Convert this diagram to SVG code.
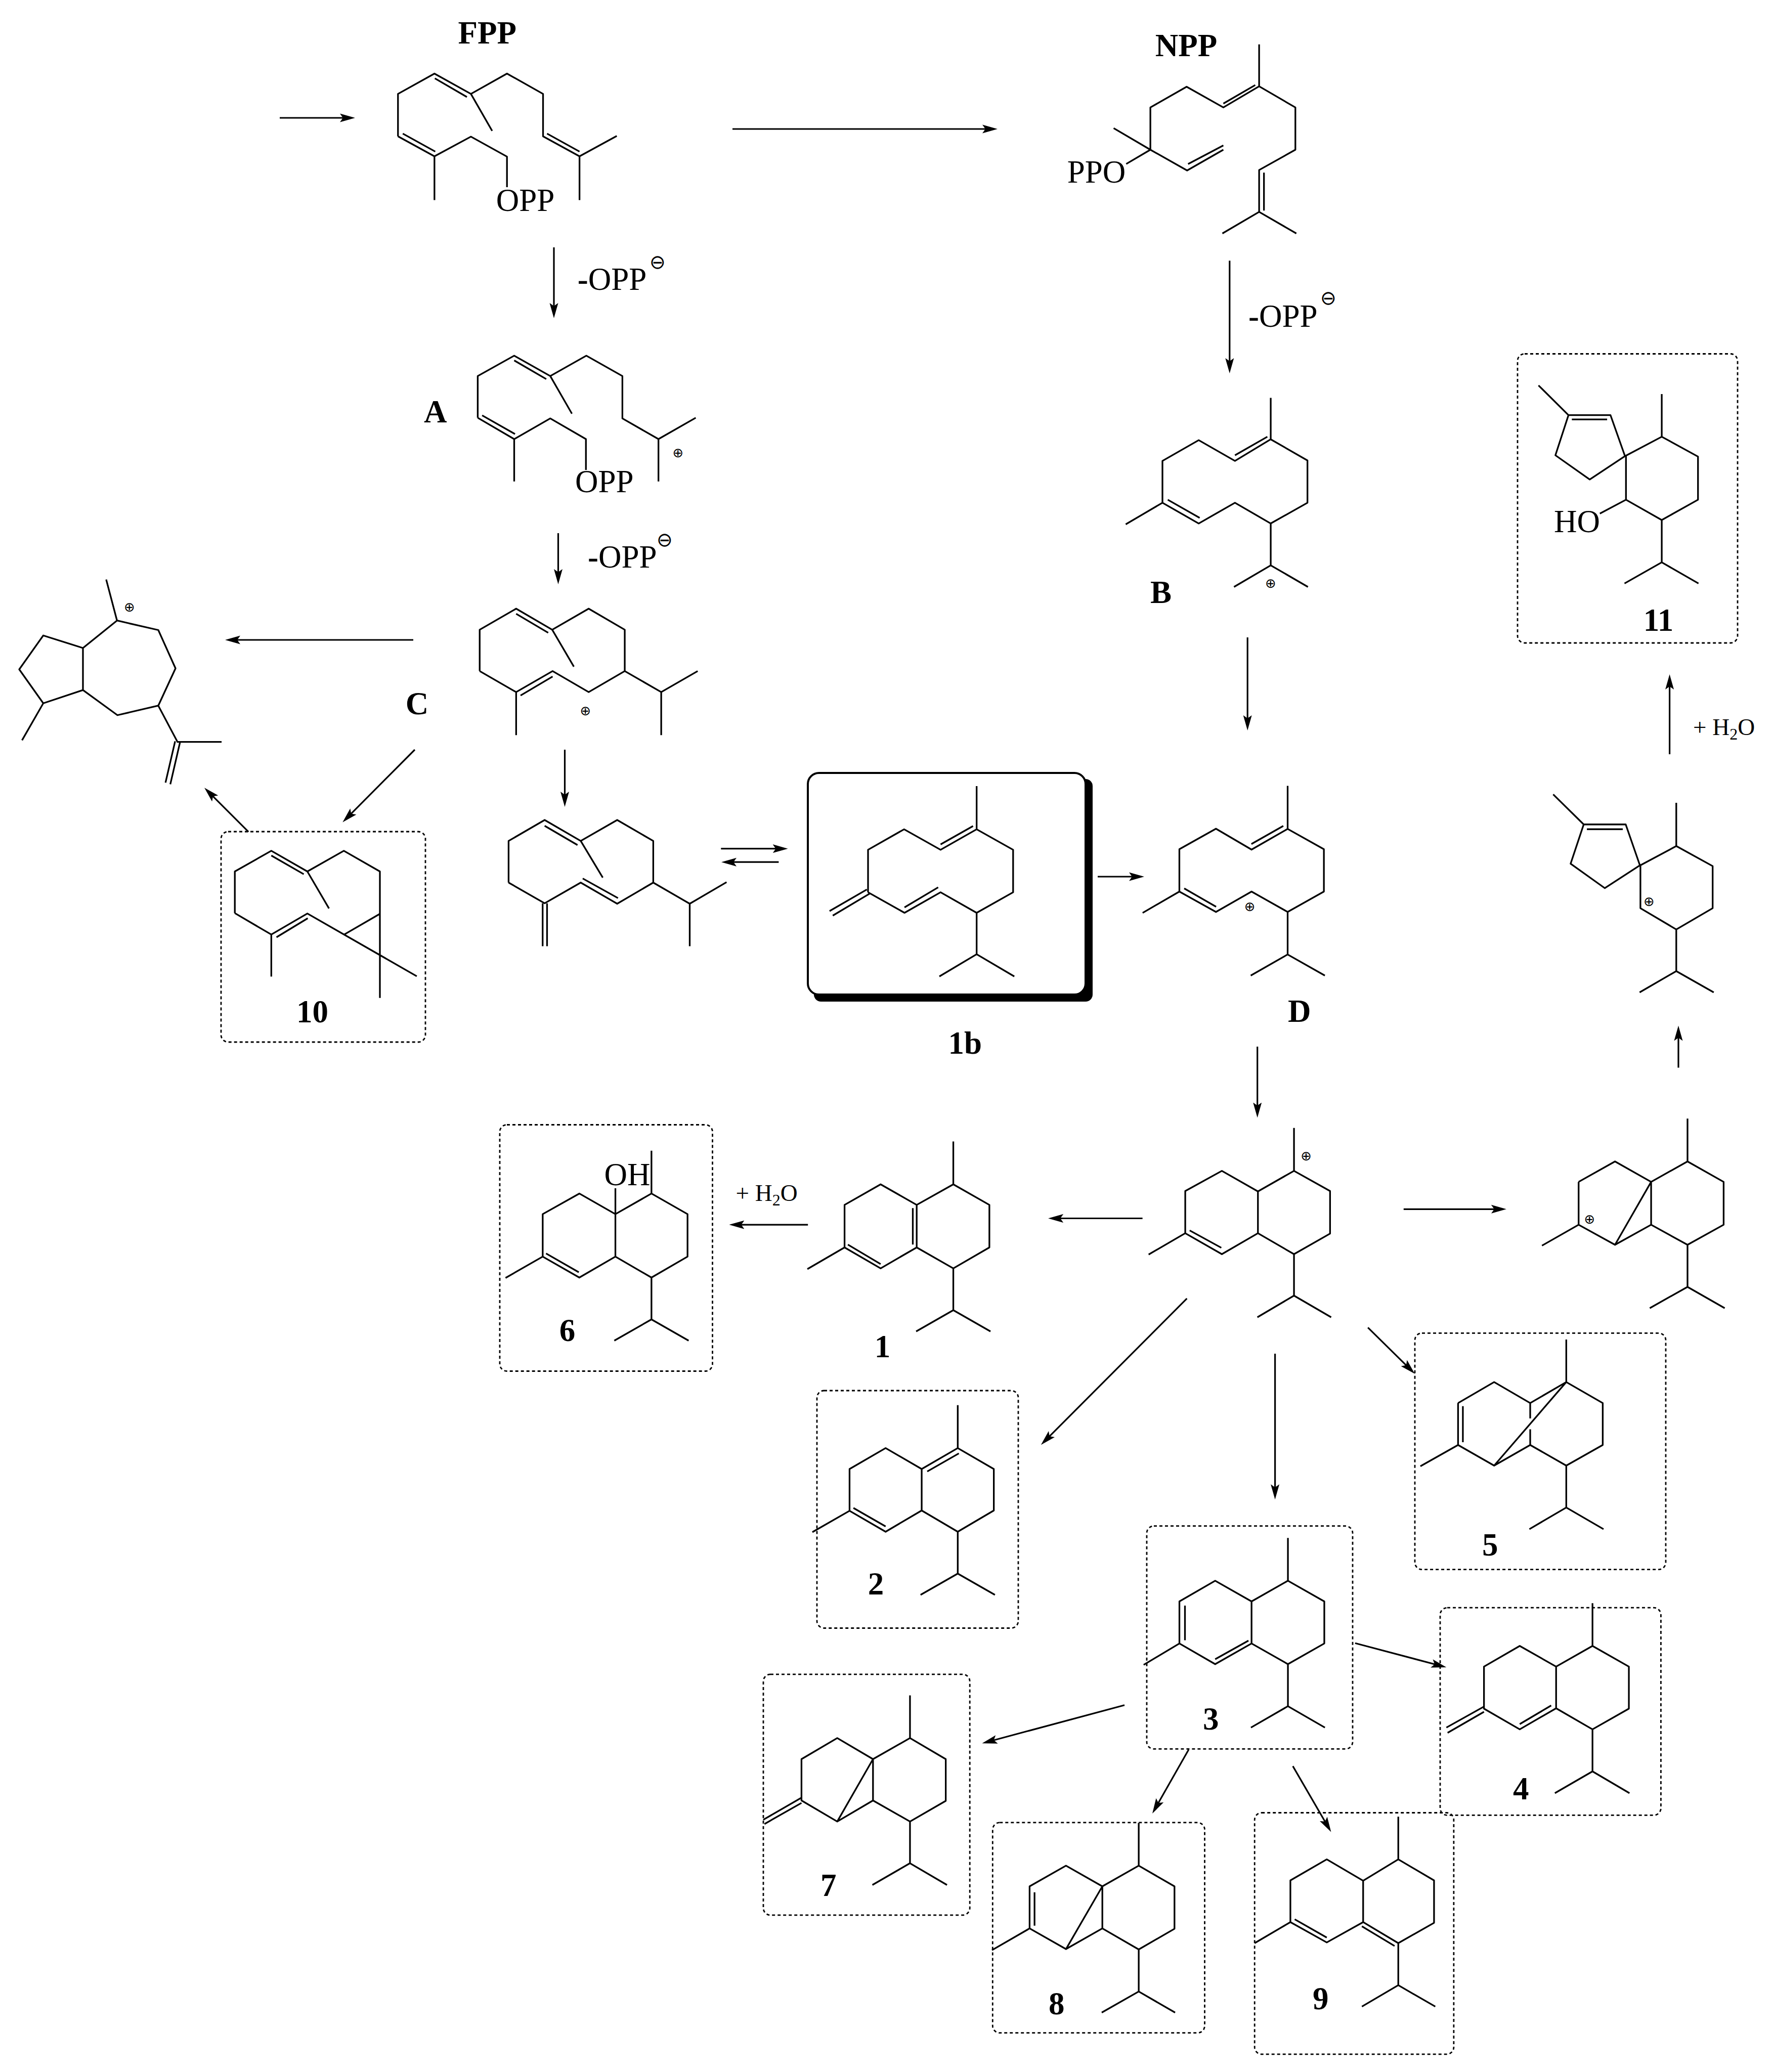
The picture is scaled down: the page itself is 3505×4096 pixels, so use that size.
<svg xmlns="http://www.w3.org/2000/svg" width="3505" height="4096" viewBox="0 0 3505 4096">
<style>
path{fill:none;stroke:#000;stroke-width:3.3;stroke-linejoin:round;vector-effect:non-scaling-stroke}
#connectors line{stroke:#000;stroke-width:3.2;marker-end:url(#ah)}
.d{fill:none;stroke:#000;stroke-width:2.8;stroke-dasharray:6 5}
text{font-family:"Liberation Serif","Times New Roman",serif;font-size:63px;fill:#000}
.b{font-weight:bold}
.w{font-family:"DejaVu Sans",sans-serif;font-size:38px;text-anchor:middle}
.p{font-family:"DejaVu Sans",sans-serif;font-size:26px;text-anchor:middle}
.s{font-size:47px}
.u{font-size:32px}
</style>
<defs>
<marker id="ah" markerUnits="userSpaceOnUse" markerWidth="34" markerHeight="20" refX="22" refY="10" orient="auto"><polygon points="30,10 0,1.5 6,10 0,18.5" fill="#000"/></marker>
</defs>
<rect width="3505" height="4096" fill="#fff"/>
<g id="connectors">
<line x1="553" y1="233" x2="694" y2="233"/>
<line x1="1448" y1="255" x2="1964" y2="255"/>
<line x1="1095" y1="489" x2="1095" y2="621"/>
<line x1="1103.5" y1="1054" x2="1103.5" y2="1147"/>
<line x1="817" y1="1265" x2="453" y2="1265"/>
<line x1="820" y1="1482" x2="682.9" y2="1619.9"/>
<line x1="491.2" y1="1644.3" x2="409.7" y2="1562.9"/>
<line x1="1116.5" y1="1482" x2="1116.5" y2="1587"/>
<line x1="1425.3" y1="1677.7" x2="1549.6" y2="1677.7"/>
<line x1="1539.4" y1="1704.2" x2="1434" y2="1704.2"/>
<line x1="2170" y1="1733" x2="2254" y2="1733"/>
<line x1="2430.8" y1="515.3" x2="2430.8" y2="730"/>
<line x1="2466.2" y1="1260" x2="2466.2" y2="1436"/>
<line x1="3300.6" y1="1491" x2="3300.6" y2="1341"/>
<line x1="3318" y1="2110.6" x2="3318" y2="2035.5"/>
<line x1="2774.8" y1="2390.3" x2="2969.9" y2="2390.3"/>
<line x1="2258.6" y1="2408.5" x2="2080.1" y2="2408.5"/>
<line x1="1597.2" y1="2421.1" x2="1449.4" y2="2421.1"/>
<line x1="2485.7" y1="2069" x2="2485.7" y2="2201.5"/>
<line x1="2346.4" y1="2566.9" x2="2063.5" y2="2850.6"/>
<line x1="2520.6" y1="2676" x2="2520.6" y2="2956.3"/>
<line x1="2704.2" y1="2624.3" x2="2791.2" y2="2710.1"/>
<line x1="2678.9" y1="3248.2" x2="2851.6" y2="3294"/>
<line x1="2223" y1="3370.8" x2="1949.2" y2="3444.2"/>
<line x1="2349.8" y1="3458.8" x2="2282" y2="3578"/>
<line x1="2555.8" y1="3491.4" x2="2627.4" y2="3614.7"/>
</g>
<g id="fpp">
<g transform="matrix(.7922 0 0 .6703 477.8 0)"><path d="M390 402V277L481 217 572 277 662 217 752 277V402L843 461 936 401M843 461V590M572 277L625 386M482 231L562 286M390 402L481 461 572 403 662 462V552M481 461V590M402 394L483 447M762 394L843 447"/></g>
<text x="905.6" y="85.8" class="b">FPP</text>
<text x="980.8" y="417">OPP</text>
</g>
<g id="reagent1"><text x="1141.7" y="573"><tspan class="b">-</tspan>OPP</text><text x="1300" y="531" class="w">⊖</text></g>
<g id="a">
<g transform="matrix(.7922 0 0 .6703 477.8 0)"><path d="M589 1232V1109L680 1049 770 1109 860 1049 950 1109V1234L1040 1295 1133 1232M1040 1295V1420M770 1109L824 1220M680 1063L760 1118M589 1232L680 1295 770 1234 859 1295V1386M680 1295V1420M600 1225L682 1280"/></g>
<text x="838" y="834.5" class="b">A</text>
<text x="1136.9" y="973">OPP</text>
<text x="1340.5" y="904" class="p">⊕</text>
</g>
<g id="reagent2"><text x="1162" y="1121.5"><tspan class="b">-</tspan>OPP</text><text x="1314" y="1080" class="w">⊖</text></g>
<g id="guaiyl">
<g transform="matrix(.7922 0 0 .6703 0 1051.1)"><path d="M292 262L395 290 438 403 395 513 293 541 207 467V343L292 262M207 343L108 306 48 406 108 506 207 467M292 262L265 141M108 506L55 615M395 513L443 620H553M437 618L413 740M449 622L425 745"/></g>
<text x="255.9" y="1208.5" class="p">⊕</text>
</g>
<g id="c">
<g transform="matrix(.7922 0 0 .6703 0 1051.1)"><path d="M1197 411V289L1288 227 1378 289 1469 227 1559 289V411L1469 473 1379 411 1288 473 1197 411M1288 242L1368 298M1299 483L1379 427M1378 289L1432 398M1288 473V600M1559 411L1650 473 1741 411M1650 473V600"/></g>
<text x="801.7" y="1411.7" class="b">C</text>
<text x="1157.4" y="1413.5" class="p">⊕</text>
</g>
<g id="c10">
<rect class="d" x="437" y="1644" width="404" height="416" rx="14"/>
<g transform="matrix(.7922 0 0 .6703 0 1051.1)"><path d="M586 1125V1002L677 941 767 1002 858 941 948 1002V1375M586 1125L677 1188 767 1126 1040 1311M948 1127L859 1188M677 1188V1312M767 1002L821 1111M677 955L758 1010M690 1196L768 1140"/></g>
<text x="586" y="2021" class="b">10</text>
</g>
<g id="germacrene-left">
<g transform="matrix(.7922 0 0 .4266 955.5 1433.3)"><path d="M63 730V537L153 440 243 537 334 440 424 537V730L515 828 607 728M515 828V1025M243 537L298 707M153 467L235 556M424 730L334 828 243 730 153 826 63 730M248 711L336 802M148 826V1025M159 826V1025"/></g>
</g>
<g id="c1b">
<rect x="1609" y="1540" width="551" height="440" rx="14" fill="#000"/>
<rect x="1597" y="1528" width="549" height="438" rx="22" fill="#fff" stroke="#000" stroke-width="4"/>
<g transform="matrix(.7922 0 0 .4266 955.5 1433.3)"><path d="M960 775V578L1050 483 1141 578 1231 483 1322 578V775L1231 870 1141 775 1051 870 960 775M1231 483V283M1141 553L1222 468M1231 870V1062L1138 1165M1231 1062L1325 1165M1051 845L1135 752M957 762L864 862M965 780L872 883"/></g>
<text x="1874.5" y="2082.6" class="b">1b</text>
</g>
<g id="npp">
<g transform="matrix(.9555 0 0 .8531 2006.6 0)"><path d="M505 103V200L580 249V347L505 394V491L429 541M505 491L582 541M505 200L431 249 355 201 280 249V347L204 297M280 347L356 395 431 347M358 380L431 337M280 347L230 380M431 240L497 197M515 400V488"/></g>
<text x="2283.7" y="110.9" class="b">NPP</text>
<text x="2109.8" y="360.9">PPO</text>
</g>
<g id="reagent3"><text x="2468" y="645.8"><tspan class="b">-</tspan>OPP</text><text x="2625.8" y="602" class="w">⊖</text></g>
<g id="b">
<g transform="matrix(.9555 0 0 .8531 2006.6 0)"><path d="M529 922V1018L605 1067V1165L529 1213 455 1165 380 1213 305 1165V1068L380 1020 455 1068 529 1018M305 1165L229 1215M529 1213V1310L453 1360M529 1310L606 1360M455 1055L522 1012M316 1158L382 1200"/></g>
<text x="2274" y="1191.8" class="b">B</text>
<text x="2512" y="1162" class="p">⊕</text>
</g>
<g id="c11">
<rect class="d" x="3000" y="699.5" width="435" height="571.5" rx="14"/>
<g transform="matrix(.9555 0 0 .8531 2006.6 0)"><path d="M1145 962H1232L1262 1057 1189 1111 1118 1055 1145 962M1145 962L1083 893M1152 972H1225M1262 1057L1338 1012 1413 1058V1158L1338 1205 1264 1158V1057M1338 1012V913M1338 1205V1303L1261 1352M1338 1303L1414 1352M1264 1158L1210 1190"/></g>
<text x="3072" y="1051.9">HO</text>
<text x="3248.7" y="1247" class="b">11</text>
</g>
<g id="water-right"><text x="3347" y="1453" class="s">+ H<tspan class="u" dy="9">2</tspan><tspan dy="-9">O</tspan></text></g>
<g id="spiro">
<g transform="matrix(.5289 0 0 .7922 2675.4 1433.3)"><path d="M861 248H1018L1071 350 940 407 812 346 861 248M861 248L747 173M873 260H1007M1073 350L1207 302 1343 352V457L1207 510 1073 457V350M1207 302V194M1207 510V614L1070 667M1207 614L1347 667"/></g>
<text x="3259.8" y="1790.5" class="p">⊕</text>
</g>
<g id="bridged-cation">
<g transform="matrix(.5289 0 0 .7922 2675.4 1433.3)"><path d="M842 1140L978 1089 1113 1140V1247L978 1297 842 1247V1140M842 1247L705 1299M1113 1140L1249 1089 1384 1140V1247L1249 1297 1113 1247M1113 1140L978 1297M1249 1089V982M1249 1297V1402L1108 1455M1249 1402L1388 1455"/></g>
<text x="3142.4" y="2418.5" class="p">⊕</text>
</g>
<g id="germacrene-d">
<g transform="matrix(.3185 0 0 .3656 2197.7 1481)"><path d="M420 770V541L647 430 868 543 1092 431 1317 541V770L1092 880 868 770 647 880 420 770M420 770L192 885M1092 431V198M867 513L1065 415M450 753L648 852M1092 880V1110L863 1224M1092 1110L1323 1224"/></g>
<text x="2470.6" y="1800.5" class="p">⊕</text>
<text x="2546" y="2020" class="b">D</text>
</g>
<g id="c6">
<rect class="d" x="988" y="2223.5" width="420.5" height="487" rx="14"/>
<g transform="matrix(1.0969 0 0 .7008 955.5 2149.9)"><path d="M238 357L173 299 107 357V477L173 536 238 477V357L303 299 368 357V477L303 536 238 477M303 299V178M238 357V284M107 477L40 537M113 468L172 521M303 536V654L236 714M303 654L370 714"/></g>
<text x="1194.6" y="2342.6">OH</text>
<text x="1105.8" y="2651" class="b">6</text>
</g>
<g id="water-left"><text x="1454.6" y="2374" class="s">+ H<tspan class="u" dy="9">2</tspan><tspan dy="-9">O</tspan></text></g>
<g id="c1">
<g transform="matrix(1.0969 0 0 .7008 955.5 2149.9)"><path d="M781 331L716 273 651 331V451L716 510 781 451V331L847 273 912 331V451L847 510 781 451M847 273V152M651 451L584 512M657 443L716 498M774 340V443M847 510V628L780 688M847 628L914 688"/></g>
<text x="1728.8" y="2682.5" class="b">1</text>
</g>
<g id="cadinyl-cation">
<g transform="matrix(1.0969 0 0 .7008 955.5 2149.9)"><path d="M1396 293L1331 235 1265 292V411L1331 470 1396 411V293L1461 235 1526 292V412L1461 470 1396 411M1461 235V114M1265 411L1199 471M1273 403L1330 452M1461 470V587L1395 648M1461 587L1528 648"/></g>
<text x="2582.2" y="2294" class="p">⊕</text>
</g>
<g id="c2">
<rect class="d" x="1615" y="2749" width="398" height="469.5" rx="14"/>
<g transform="matrix(1.0969 0 0 .7008 955.5 2149.9)"><path d="M790 1076L725 1017 660 1076V1194L725 1253 790 1193V1076L855 1017 920 1076V1193L855 1253 790 1193M855 1017V896M660 1194L593 1254M667 1186L725 1238M800 1083L857 1032M855 1253V1371L788 1431M855 1371L922 1431"/></g>
<text x="1715.7" y="3152" class="b">2</text>
</g>
<g id="c5">
<rect class="d" x="2797" y="2635.3" width="496" height="467.4" rx="14"/>
<g transform="matrix(.7922 0 0 .6094 2102.1 2197.7)"><path d="M985 945L1075 877 1165 945V995M1165 1030V1081M1165 945L1255 877 1346 945V1081L1255 1148 1165 1081 1075 1148 985 1081V945M1255 877L1075 1148M1255 877V739M985 1081L891 1150M997 955V1072M1255 1148V1284L1163 1354M1255 1284L1348 1354"/></g>
<text x="2930" y="3075" class="b">5</text>
</g>
<g id="c3">
<rect class="d" x="2267" y="3016.7" width="407" height="440.7" rx="14"/>
<g transform="matrix(1.2188 0 0 .6929 1433.3 3009.8)"><path d="M854 225L795 166 737 225V345L795 404 854 345V225L913 166 972 225V345L913 404 854 345M913 166V44M737 345L679 406M746 237V336M795 390L849 337M913 404V524L853 585M913 524L973 585"/></g>
<text x="2378" y="3418.6" class="b">3</text>
</g>
<g id="c4">
<rect class="d" x="2847" y="3178.2" width="436.4" height="410.2" rx="14"/>
<g transform="matrix(1.2188 0 0 .6929 1433.3 3009.8)"><path d="M1348 411L1289 352 1231 411V531L1289 590 1348 530V411L1407 352 1466 411V531L1407 590 1348 530M1407 352V230M1289 575L1340 522M1231 525L1170 585M1231 540L1172 600M1407 590V710L1346 772M1407 710L1467 772"/></g>
<text x="2991" y="3557" class="b">4</text>
</g>
<g id="c7">
<rect class="d" x="1509" y="3309.8" width="408.2" height="476.1" rx="14"/>
<g transform="matrix(1.2188 0 0 .6929 1433.3 3009.8)"><path d="M240 675L182 615 124 675V793L182 853 240 793V675L300 615 358 675V794L300 853 240 793M240 675L182 853M300 615V493M124 785L62 848M124 800L64 860M300 853V972L239 1034M300 972L360 1034"/></g>
<text x="1622" y="3747.7" class="b">7</text>
</g>
<g id="c8">
<rect class="d" x="1962.3" y="3602.9" width="419.2" height="415.8" rx="14"/>
<g transform="matrix(1.2188 0 0 .6929 1433.3 3009.8)"><path d="M612 1038L553 979 494 1038V1158L553 1217 612 1158V1038L671 979 729 1038V1159L671 1218 612 1158M612 1038L553 1217M671 979V857M494 1158L433 1220M502 1055V1150M671 1218V1338L611 1398M671 1338L730 1398"/></g>
<text x="2073" y="3982" class="b">8</text>
</g>
<g id="c9">
<rect class="d" x="2480.2" y="3583.5" width="393.7" height="477.4" rx="14"/>
<g transform="matrix(1.2188 0 0 .6929 1433.3 3009.8)"><path d="M1035 1022L976 961 917 1021V1140L976 1198 1035 1140V1022L1092 961 1150 1021V1142L1092 1200 1035 1140M1092 961V839M917 1140L859 1200M924 1132L976 1184M1033 1152L1086 1208M1092 1200V1320L1033 1381M1092 1320L1152 1381"/></g>
<text x="2595" y="3971.5" class="b">9</text>
</g>
</svg>
